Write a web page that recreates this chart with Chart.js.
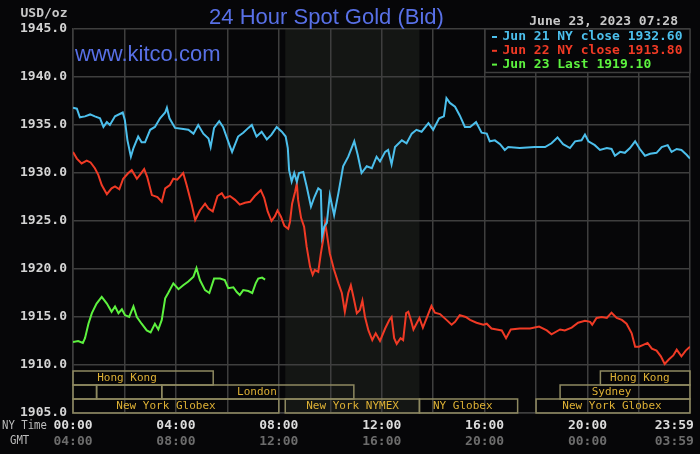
<!DOCTYPE html>
<html>
<head>
<meta charset="utf-8">
<script src="https://cdn.jsdelivr.net/npm/chart.js@4.4.0/dist/chart.umd.min.js"></script>
<style>
    html, body { margin: 0; padding: 0; background: #060608; }
    canvas { display: block; }
</style>
</head>
<body>
<canvas id="gold" width="700" height="454"></canvas>
<script>
// times are minutes after midnight, NY time
const jun21Time = [0, 9, 16, 28, 40, 51, 63, 71, 79, 86, 98, 116, 121, 127, 135, 141, 152, 160, 168, 180,
    191, 203, 215, 219, 225, 238, 253, 269, 281, 292, 304, 316, 321, 329, 341, 350, 365, 371, 385, 397,
    409, 417, 428, 440, 452, 463, 475, 487, 496, 501, 504, 510, 516, 522, 527, 537, 545, 555, 563, 572,
    578, 581, 586, 592, 599, 609, 619, 630, 642, 656, 664, 673, 685, 697, 708, 716, 728, 735, 743, 751,
    767, 778, 790, 801, 813, 829, 840, 854, 865, 871, 879, 891, 902, 914, 926, 940, 953, 965, 972, 984,
    996, 1007, 1015, 1042, 1077, 1101, 1116, 1130, 1143, 1159, 1171, 1186, 1194, 1202, 1217, 1229, 1245, 1256, 1264, 1276,
    1287, 1299, 1311, 1322, 1334, 1346, 1361, 1373, 1387, 1396, 1408, 1419, 1431, 1439];
const jun21Price = [1936.8, 1936.7, 1935.8, 1935.9, 1936.1, 1935.9, 1935.7, 1934.8, 1935.3, 1935.0,
    1935.9, 1936.3, 1935.5, 1933.4, 1931.7, 1932.6, 1933.8, 1933.2, 1933.2, 1934.5,
    1934.8, 1935.7, 1936.3, 1936.8, 1935.7, 1934.7, 1934.6, 1934.5, 1934.1, 1935.0,
    1934.1, 1933.6, 1932.7, 1934.7, 1935.4, 1934.8, 1932.9, 1932.2, 1933.8, 1934.2,
    1934.7, 1935.0, 1933.8, 1934.3, 1933.5, 1934.0, 1934.8, 1934.3, 1933.8, 1932.6,
    1930.3, 1929.1, 1930.0, 1929.1, 1930.0, 1930.1, 1928.6, 1926.5, 1927.5, 1928.4,
    1928.2, 1923.4, 1924.4, 1924.8, 1927.7, 1925.6, 1927.9, 1930.7, 1931.7, 1933.3,
    1931.9, 1930.0, 1930.7, 1930.5, 1931.7, 1931.2, 1932.2, 1932.4, 1930.9, 1932.7,
    1933.4, 1933.1, 1934.1, 1934.5, 1934.3, 1935.2, 1934.5, 1935.7, 1935.9, 1937.8,
    1937.3, 1936.9, 1936.0, 1934.8, 1934.8, 1935.3, 1934.2, 1934.1, 1933.3, 1933.4,
    1933.0, 1932.4, 1932.7, 1932.6, 1932.7, 1932.7, 1933.1, 1933.7, 1933.0, 1932.6,
    1933.3, 1933.4, 1934.0, 1933.3, 1932.9, 1932.4, 1932.6, 1932.5, 1931.8, 1932.2,
    1932.1, 1932.6, 1933.3, 1932.5, 1931.8, 1932.0, 1932.1, 1932.7, 1932.9, 1932.2,
    1932.5, 1932.4, 1931.9, 1931.5];

const jun22Time = [0, 9, 20, 32, 41, 51, 59, 67, 79, 90, 98, 108, 117, 129, 137, 149, 156, 166, 173, 184,
    197, 207, 215, 226, 234, 243, 257, 265, 277, 285, 296, 308, 316, 326, 337, 347, 354, 366, 378, 389,
    401, 413, 424, 438, 446, 454, 463, 471, 477, 485, 493, 502, 506, 511, 518, 522, 525, 532, 539, 545,
    553, 559, 564, 572, 578, 584, 588, 592, 599, 609, 619, 627, 634, 642, 648, 654, 662, 669, 675, 681,
    689, 698, 706, 716, 728, 738, 743, 749, 755, 764, 770, 777, 782, 788, 794, 801, 808, 816, 825, 836,
    844, 856, 871, 883, 891, 902, 916, 926, 941, 957, 965, 976, 988, 1000, 1010, 1021, 1042, 1066, 1087, 1105,
    1116, 1136, 1147, 1163, 1178, 1194, 1206, 1211, 1221, 1233, 1245, 1256, 1268, 1280, 1291, 1303, 1311, 1320, 1330, 1340,
    1350, 1361, 1371, 1380, 1390, 1400, 1408, 1419, 1429, 1439];
const jun22Price = [1932.2, 1931.5, 1931.0, 1931.3, 1931.1, 1930.5, 1929.8, 1928.75, 1927.8, 1928.4,
    1928.6, 1928.3, 1929.4, 1930.0, 1930.3, 1929.4, 1929.8, 1930.4, 1929.6, 1927.7,
    1927.5, 1927.0, 1928.4, 1928.75, 1929.4, 1929.3, 1930.0, 1928.75, 1926.7, 1925.1,
    1926.1, 1926.8, 1926.3, 1926.0, 1927.6, 1927.9, 1927.4, 1927.6, 1927.2, 1926.7,
    1926.9, 1927.0, 1927.6, 1928.2, 1927.4, 1926.0, 1925.0, 1925.5, 1926.1, 1925.45,
    1924.5, 1924.2, 1924.9, 1926.8, 1928.05, 1928.9, 1927.2, 1925.3, 1924.4, 1922.3,
    1920.2, 1919.4, 1919.9, 1919.7, 1921.6, 1923.2, 1924.8, 1923.7, 1921.6, 1919.9,
    1918.5, 1917.5, 1915.55, 1917.5, 1918.3, 1917.1, 1915.4, 1915.7, 1916.7, 1915.0,
    1913.6, 1912.6, 1913.3, 1912.5, 1913.8, 1914.7, 1915.0, 1912.8, 1912.2, 1912.8,
    1912.6, 1915.4, 1915.55, 1914.7, 1913.7, 1914.3, 1914.9, 1913.9, 1914.9, 1916.15,
    1915.45, 1915.3, 1914.7, 1914.2, 1914.5, 1915.2, 1915.0, 1914.7, 1914.4, 1914.2,
    1914.3, 1913.8, 1913.7, 1913.6, 1912.8, 1913.7, 1913.8, 1913.8, 1914.0, 1913.6,
    1913.2, 1913.7, 1913.6, 1913.9, 1914.4, 1914.6, 1914.5, 1914.2, 1914.9, 1915.0,
    1914.9, 1915.45, 1914.9, 1914.7, 1914.3, 1913.3, 1911.9, 1911.9, 1912.1, 1912.3,
    1911.7, 1911.5, 1910.9, 1910.1, 1910.6, 1911.0, 1911.6, 1910.9, 1911.5, 1911.9];

const jun23Time = [0, 12, 23, 28, 36, 44, 55, 67, 79, 90, 98, 106, 114, 121, 131, 141, 149, 160, 172, 181,
    191, 199, 207, 215, 222, 234, 246, 257, 269, 281, 288, 296, 308, 318, 329, 343, 354, 362, 374, 382,
    389, 397, 409, 418, 426, 432, 441, 448];
const jun23Price = [1912.4, 1912.5, 1912.3, 1912.8, 1914.3, 1915.4, 1916.4, 1917.1, 1916.4, 1915.55,
    1916.1, 1915.4, 1915.8, 1915.2, 1915.0, 1916.1, 1915.0, 1914.3, 1913.6, 1913.4,
    1914.3, 1913.7, 1914.7, 1916.95, 1917.5, 1918.5, 1917.9, 1918.3, 1918.7, 1919.2,
    1920.1, 1918.85, 1917.8, 1917.5, 1919.0, 1919.0, 1918.85, 1918.0, 1918.1, 1917.6,
    1917.3, 1917.8, 1917.7, 1917.5, 1918.5, 1919.0, 1919.1, 1918.9];

const seriesLabels = ["Jun 21 NY close 1932.60", "Jun 22 NY close 1913.80", "Jun 23 Last 1919.10"];

const gridMinutes = [0, 120, 240, 360, 480, 600, 720, 840, 960, 1080, 1200, 1320, 1439];
const labelMinutes = [0, 240, 480, 720, 960, 1200, 1439];
const priceTicks = [1905, 1910, 1915, 1920, 1925, 1930, 1935, 1940, 1945];

// market sessions shown along the bottom of the plot
const sessionName = ["Hong Kong", "", "", "London", "New York Globex", "New York NYMEX", "NY Globex", "New York Globex", "Sydney", "Hong Kong"];
const sessionStart = [0, 0, 55, 207, 0, 495, 808, 1080, 1136, 1230];
const sessionEnd = [327, 55, 207, 655, 480, 808, 1037, 1439, 1439, 1439];
const sessionRow = [0, 1, 1, 1, 2, 2, 2, 2, 1, 0];
const sessionLabelAt = [126, null, null, 429, 217, 652, 909, 1257, 1256, 1322];
const NYMEX = 5;

const BG = "#060608";
const GRID = "#3e3e3e";
const COLORS = ["#4cbfec", "#f03a25", "#5df23f"];
const MONO = "'DejaVu Sans Mono', monospace";

function hhmm(m) {
    const h = Math.floor(m / 60);
    return String(h).padStart(2, "0") + ":" + String(m % 60).padStart(2, "0");
}

function toPoints(times, prices) {
    return times.map((t, i) => ({ x: t, y: prices[i] }));
}

const kitcoPlugin = {
    id: "kitco",
    beforeDraw(chart) {
        const { ctx, chartArea: a } = chart;
        const x = chart.scales.x;
        ctx.save();
        ctx.fillStyle = BG;
        ctx.fillRect(0, 0, chart.width, chart.height);
        const x0 = x.getPixelForValue(sessionStart[NYMEX]);
        const x1 = x.getPixelForValue(sessionEnd[NYMEX]);
        ctx.fillStyle = "#141614";
        ctx.fillRect(x0, a.top, x1 - x0, a.bottom - a.top);
        ctx.restore();
    },
    afterDatasetsDraw(chart) {
        const { ctx, chartArea: a } = chart;
        const x = chart.scales.x;
        const rowH = 14;
        ctx.save();
        ctx.lineWidth = 1.5;
        ctx.strokeStyle = "#8e8960";
        ctx.fillStyle = "#ddb035";
        ctx.font = "11px " + MONO;
        ctx.textAlign = "center";
        ctx.textBaseline = "middle";
        sessionName.forEach((name, i) => {
            const top = a.bottom - (3 - sessionRow[i]) * rowH;
            const x0 = x.getPixelForValue(sessionStart[i]);
            const x1 = x.getPixelForValue(sessionEnd[i]);
            ctx.strokeRect(x0, top, x1 - x0, rowH);
            if (name) {
                ctx.fillText(name, x.getPixelForValue(sessionLabelAt[i]), top + rowH / 2 + 0.5);
            }
        });
        ctx.restore();
    },
    afterDraw(chart) {
        const { ctx } = chart;
        ctx.save();

        // legend box
        ctx.fillStyle = BG;
        ctx.fillRect(485, 29, 205, 43.5);
        ctx.strokeStyle = GRID;
        ctx.lineWidth = 1.5;
        ctx.strokeRect(485, 29, 205, 43.5);
        ctx.font = "bold 13px " + MONO;
        ctx.textBaseline = "middle";
        ctx.textAlign = "left";
        chart.data.datasets.forEach((ds, i) => {
            const y = 37 + i * 13.8;
            ctx.fillStyle = ds.borderColor;
            ctx.fillRect(492, y - 1, 5, 2);
            ctx.fillText(ds.label, 502.5, y);
        });

        // titles
        ctx.fillStyle = "#5870e6";
        ctx.textBaseline = "alphabetic";
        ctx.textAlign = "center";
        ctx.font = "22px 'Liberation Sans', Arial, sans-serif";
        ctx.fillText("24 Hour Spot Gold (Bid)", 326.5, 23.5);
        ctx.textAlign = "left";
        ctx.fillText("www.kitco.com", 75, 61);

        ctx.textBaseline = "middle";
        ctx.font = "bold 13px " + MONO;
        ctx.fillStyle = "#c8c8c8";
        ctx.fillText("USD/oz", 20.5, 14);
        ctx.textAlign = "right";
        ctx.fillText("June 23, 2023 07:28", 678, 21.5);

        // time zone captions, narrow
        ctx.textAlign = "left";
        ctx.font = "13px " + MONO;
        ctx.fillStyle = "#bdbdbd";
        ctx.scale(0.82, 1);
        ctx.fillText("NY Time", 2 / 0.82, 426);
        ctx.fillText("GMT", 10 / 0.82, 441);
        ctx.restore();
    }
};

new Chart(document.getElementById("gold"), {
    type: "line",
    data: {
        datasets: [
            { label: seriesLabels[0], data: toPoints(jun21Time, jun21Price), borderColor: COLORS[0] },
            { label: seriesLabels[1], data: toPoints(jun22Time, jun22Price), borderColor: COLORS[1] },
            { label: seriesLabels[2], data: toPoints(jun23Time, jun23Price), borderColor: COLORS[2] }
        ]
    },
    options: {
        responsive: false,
        animation: false,
        devicePixelRatio: 1,
        layout: { padding: { top: 29, right: 10, bottom: 0, left: 0 } },
        elements: {
            line: { borderWidth: 2, tension: 0, fill: false },
            point: { radius: 0 }
        },
        plugins: {
            legend: { display: false },
            tooltip: { enabled: false }
        },
        scales: {
            x: {
                type: "linear",
                position: "bottom",
                weight: 0,
                min: 0,
                max: 1439,
                afterBuildTicks: (s) => { s.ticks = gridMinutes.map((value) => ({ value })); },
                afterFit: (s) => { s.height = 20; s.paddingLeft = 0; s.paddingRight = 0; },
                grid: { color: GRID, lineWidth: 1.5, drawTicks: false },
                border: { color: GRID, width: 1.5 },
                ticks: {
                    autoSkip: false,
                    maxRotation: 0,
                    padding: 5,
                    color: "#dcdcdc",
                    font: { family: MONO, size: 13, weight: "bold" },
                    callback: (v) => {
                        if (!labelMinutes.includes(v)) return "";
                        return v === 1439 ? hhmm(v) + "    " : hhmm(v);
                    }
                }
            },
            gmt: {
                type: "linear",
                position: "bottom",
                weight: 1,
                min: 0,
                max: 1439,
                afterBuildTicks: (s) => { s.ticks = labelMinutes.map((value) => ({ value })); },
                afterFit: (s) => { s.height = 21; s.paddingLeft = 0; s.paddingRight = 0; },
                grid: { display: false, drawTicks: false },
                border: { display: false },
                ticks: {
                    autoSkip: false,
                    maxRotation: 0,
                    padding: 1,
                    color: "#6c6c6c",
                    font: { family: MONO, size: 13, weight: "bold" },
                    callback: (v) => {
                        const g = hhmm((v + 240) % 1440);
                        return v === 1439 ? g + "    " : g;
                    }
                }
            },
            y: {
                position: "left",
                min: 1905,
                max: 1945,
                afterBuildTicks: (s) => { s.ticks = priceTicks.map((value) => ({ value })); },
                afterFit: (s) => { s.width = 73; s.paddingTop = 0; s.paddingBottom = 0; },
                grid: { color: GRID, lineWidth: 1.5, drawTicks: false },
                border: { color: GRID, width: 1.5 },
                ticks: {
                    padding: 6,
                    color: "#d4d4d4",
                    font: { family: MONO, size: 13, weight: "bold" },
                    callback: (v) => v.toFixed(1)
                }
            }
        }
    },
    plugins: [kitcoPlugin]
});
</script>
</body>
</html>
